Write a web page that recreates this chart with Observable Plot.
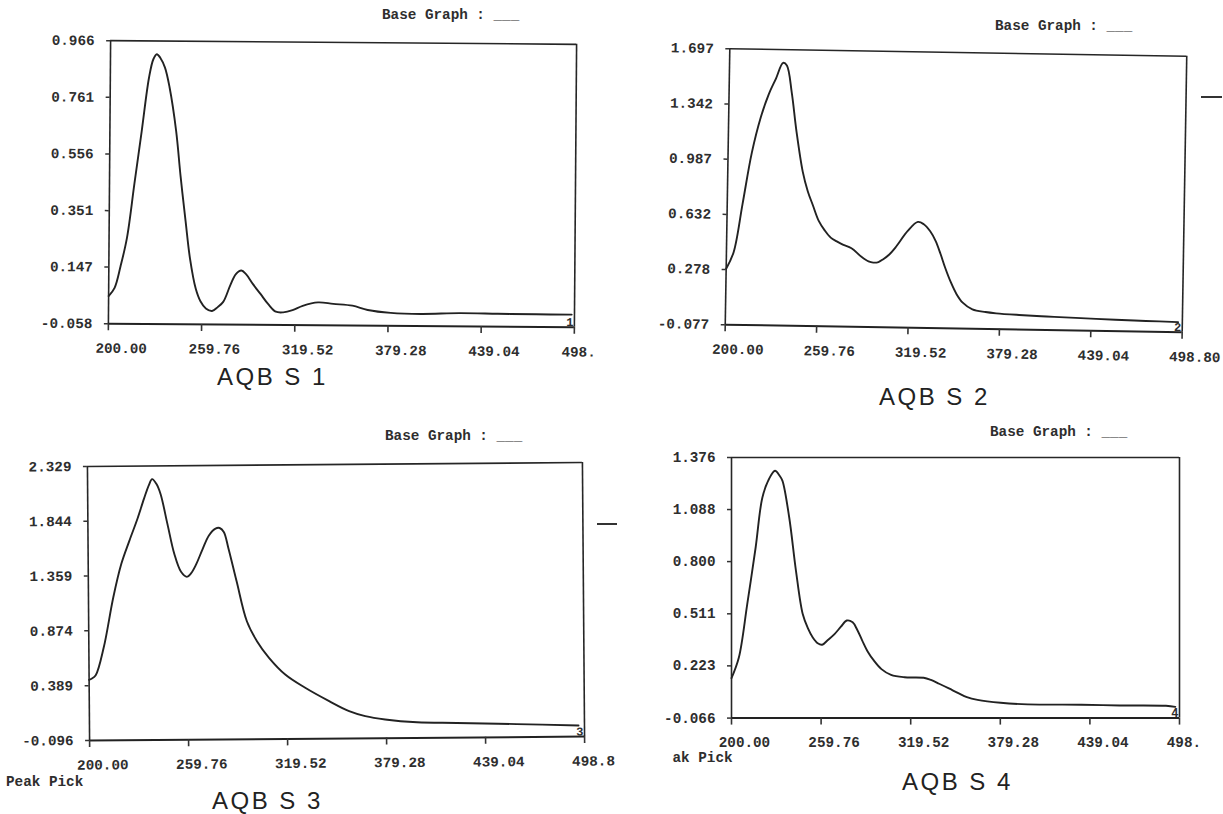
<!DOCTYPE html>
<html>
<head>
<meta charset="utf-8">
<script src="https://cdn.jsdelivr.net/npm/d3@7"></script>
<script src="https://cdn.jsdelivr.net/npm/@observablehq/plot@0.6"></script>
<style>
  html, body { margin: 0; padding: 0; background: #fff; }
  #page { position: relative; width: 1223px; height: 814px; overflow: hidden; background: #fff; }
  #page svg { position: absolute; max-width: none; overflow: visible; }
  .mono { position: absolute; font-family: "Liberation Mono", monospace; font-weight: bold; font-size: 14.3px; line-height: 14.3px; color: #2e2e2e; white-space: pre; }
  .cap { position: absolute; font-family: "Liberation Sans", Arial, sans-serif; font-size: 24px; line-height: 24px; letter-spacing: 2.5px; color: #222; white-space: pre; }
  .dash { position: absolute; border-top: 2px solid #333; height: 0; }
</style>
</head>
<body>
<div id="page"></div>
<script>
// ---- shared x axis values ----
const xTicks = [200, 259.76, 319.52, 379.28, 439.04, 498.8];
const xTickLabels1 = ["200.00", "259.76", "319.52", "379.28", "439.04", "498."];
const xTickLabels2 = ["200.00", "259.76", "319.52", "379.28", "439.04", "498.80"];
const xTickLabels3 = ["200.00", "259.76", "319.52", "379.28", "439.04", "498.8"];
const xTickLabels4 = ["200.00", "259.76", "319.52", "379.28", "439.04", "498."];

// ---- AQB S 1 ----
const yTicks1 = [-0.058, 0.147, 0.351, 0.556, 0.761, 0.966];
const wl1  = [200, 203.8, 207.5, 211.5, 216, 220.4, 224.8, 227.5, 229.7, 232, 235, 238, 242.5, 245.5, 249, 252, 255.8, 259, 262.4, 266.4, 270, 273.5, 278, 281.5, 285, 288, 292.5, 297.5, 302.4, 307.3, 312, 318, 324.5, 334.3, 344.1, 356.4, 366.2, 381, 400.6, 425, 449.6, 474.2, 497];
const abs1 = [0.042, 0.072, 0.150, 0.254, 0.450, 0.640, 0.833, 0.900, 0.918, 0.905, 0.870, 0.800, 0.640, 0.480, 0.314, 0.180, 0.072, 0.025, 0.000, -0.009, 0.005, 0.024, 0.085, 0.125, 0.138, 0.125, 0.089, 0.053, 0.017, -0.010, -0.012, -0.004, 0.012, 0.025, 0.020, 0.014, -0.001, -0.011, -0.014, -0.010, -0.011, -0.012, -0.012];

// ---- AQB S 2 ----
const yTicks2 = [-0.077, 0.278, 0.632, 0.987, 1.342, 1.697];
const wl2  = [200, 204.7, 210, 215.5, 221, 226, 230.5, 235, 237.5, 241, 244.5, 249, 252.5, 256, 260, 264, 268, 272, 276, 281.7, 288.3, 293, 296.1, 299.5, 302.6, 306.5, 310.4, 318.3, 324.8, 328.7, 333, 336.6, 340, 343.1, 347, 350.9, 355, 361.4, 370, 377, 392, 410, 429, 455, 475, 496];
const abs2 = [0.283, 0.390, 0.700, 1.030, 1.260, 1.410, 1.510, 1.612, 1.595, 1.420, 1.172, 0.915, 0.790, 0.700, 0.600, 0.540, 0.494, 0.470, 0.450, 0.428, 0.374, 0.345, 0.338, 0.342, 0.361, 0.392, 0.437, 0.545, 0.604, 0.590, 0.545, 0.484, 0.400, 0.314, 0.220, 0.144, 0.090, 0.048, 0.032, 0.025, 0.017, 0.010, 0.004, -0.004, -0.008, -0.012];

// ---- AQB S 3 ----
const yTicks3 = [-0.096, 0.389, 0.874, 1.359, 1.844, 2.329];
const wl3  = [200, 201.5, 204, 209, 215, 220, 225, 230, 234, 237, 239, 241.5, 244, 248, 252, 256, 259.5, 262, 265, 269, 273, 277, 279.5, 282, 284.7, 289.5, 295.5, 301.5, 308.7, 318.4, 330.4, 344.8, 356.8, 366.5, 378.5, 397.7, 421.8, 457.9, 495.2];
const abs3 = [0.440, 0.450, 0.480, 0.727, 1.170, 1.465, 1.670, 1.865, 2.040, 2.160, 2.212, 2.170, 2.080, 1.815, 1.550, 1.390, 1.345, 1.375, 1.450, 1.585, 1.710, 1.770, 1.775, 1.740, 1.596, 1.302, 0.948, 0.771, 0.623, 0.474, 0.355, 0.235, 0.145, 0.100, 0.069, 0.042, 0.033, 0.019, 0.002];

// ---- AQB S 4 ----
const yTicks4 = [-0.066, 0.223, 0.511, 0.800, 1.088, 1.376];
const wl4  = [200, 204.9, 210.5, 216.1, 220.6, 225, 229, 232.1, 234, 238.5, 243, 247.5, 251, 254.2, 257.5, 260.5, 264.1, 268.7, 273, 276.9, 280.8, 284, 287.2, 291, 294.9, 300, 306.4, 315.4, 328.2, 333, 338.5, 345, 351.3, 357, 364.1, 379.5, 397.5, 433.4, 459, 489.8, 496];
const abs4 = [0.155, 0.269, 0.565, 0.878, 1.155, 1.257, 1.303, 1.275, 1.247, 1.044, 0.749, 0.510, 0.430, 0.380, 0.348, 0.340, 0.365, 0.399, 0.440, 0.474, 0.464, 0.420, 0.363, 0.300, 0.253, 0.205, 0.173, 0.160, 0.157, 0.145, 0.124, 0.098, 0.072, 0.050, 0.035, 0.019, 0.010, 0.008, 0.004, 0.002, -0.004];

const captions = ["AQB S 1", "AQB S 2", "AQB S 3", "AQB S 4"];
const traceTags = ["1", "2", "3", "4"];

const page = document.getElementById("page");
const ML = 70, MR = 52, MT = 20, MB = 46;
const CH = 8.58; // monospace character advance at 14.3px

function addText(cls, txt, left, top) {
  const d = document.createElement("div");
  d.className = cls;
  d.textContent = txt;
  d.style.left = left + "px";
  d.style.top = top + "px";
  page.appendChild(d);
  return d;
}

function panel({wl, abs, yTicks, xLabels, tag, fw, fh, frameLeft, frameTop, rot}) {
  const data = wl.map((x, i) => ({x, y: abs[i]}));
  const y0 = yTicks[0], y1 = yTicks[yTicks.length - 1];
  const svg = Plot.plot({
    width: fw + ML + MR,
    height: fh + MT + MB,
    marginLeft: ML, marginRight: MR, marginTop: MT, marginBottom: MB,
    style: {fontFamily: "'Liberation Mono', monospace", fontSize: "14.3px", fontWeight: "bold", color: "#2e2e2e", background: "transparent", overflow: "visible"},
    x: {domain: [200, 498.8]},
    y: {domain: [y0, y1]},
    marks: [
      Plot.ruleX([200, 498.8], {stroke: "#262626", strokeWidth: 1.6}),
      Plot.ruleY([y1], {stroke: "#262626", strokeWidth: 1.6}),
      Plot.ruleY([y0], {stroke: "#222", strokeWidth: 2}),
      Plot.axisY({ticks: yTicks, tickFormat: d => d.toFixed(3), tickSize: 4, tickPadding: 12, label: null, stroke: "#333", strokeWidth: 1.5}),
      Plot.axisX({ticks: xTicks, tickSize: 7, fill: "none", label: null, stroke: "#333", strokeWidth: 1.6}),
      Plot.axisX({ticks: xTicks, tickSize: 0, tickPadding: 19, dx: 13 - 3 * CH, textAnchor: "start", label: null,
                  tickFormat: d => xLabels[xTicks.indexOf(d)]}),
      Plot.line(data, {x: "x", y: "y", curve: "catmull-rom", stroke: "#222", strokeWidth: 1.9}),
      Plot.text([tag], {x: 498.8, y: y0, text: d => d, dx: -1, dy: -5, textAnchor: "end", fontSize: 12})
    ]
  });
  svg.style.left = (frameLeft - ML) + "px";
  svg.style.top = (frameTop - MT) + "px";
  svg.style.transformOrigin = `${ML + fw / 2}px ${MT + fh / 2}px`;
  svg.style.transform = `rotate(${rot}deg)`;
  page.appendChild(svg);
}

panel({wl: wl1, abs: abs1, yTicks: yTicks1, xLabels: xTickLabels1, tag: traceTags[0], fw: 466, fh: 283, frameLeft: 109.3, frameTop: 41.7, rot: 0.45});
panel({wl: wl2, abs: abs2, yTicks: yTicks2, xLabels: xTickLabels2, tag: traceTags[1], fw: 457, fh: 276, frameLeft: 727.4, frameTop: 52, rot: 0.95});
panel({wl: wl3, abs: abs3, yTicks: yTicks3, xLabels: xTickLabels3, tag: traceTags[2], fw: 495, fh: 274, frameLeft: 88, frameTop: 463.5, rot: -0.45});
panel({wl: wl4, abs: abs4, yTicks: yTicks4, xLabels: xTickLabels4, tag: traceTags[3], fw: 448, fh: 260.6, frameLeft: 731, frameTop: 456.7, rot: 0});

// header legends
addText("mono", "Base Graph : ___", 382, 8);
addText("mono", "Base Graph : ___", 995, 19);
addText("mono", "Base Graph : ___", 385, 429);
addText("mono", "Base Graph : ___", 990, 425);

// "Peak Pick" remnants under the left axes of panels 3 and 4
addText("mono", "Peak Pick", 6, 775);
addText("mono", "ak Pick", 672.5, 751);

// captions
addText("cap", captions[0], 217, 365.3);
addText("cap", captions[1], 879, 385.3);
addText("cap", captions[2], 212, 789);
addText("cap", captions[3], 902, 770.3);

// stray marks at the right of panels 2 and 3
const d2 = document.createElement("div"); d2.className = "dash";
Object.assign(d2.style, {left: "1201px", top: "96px", width: "21px"}); page.appendChild(d2);
const d3 = document.createElement("div"); d3.className = "dash";
Object.assign(d3.style, {left: "597px", top: "523px", width: "20px"}); page.appendChild(d3);
</script>
</body>
</html>
